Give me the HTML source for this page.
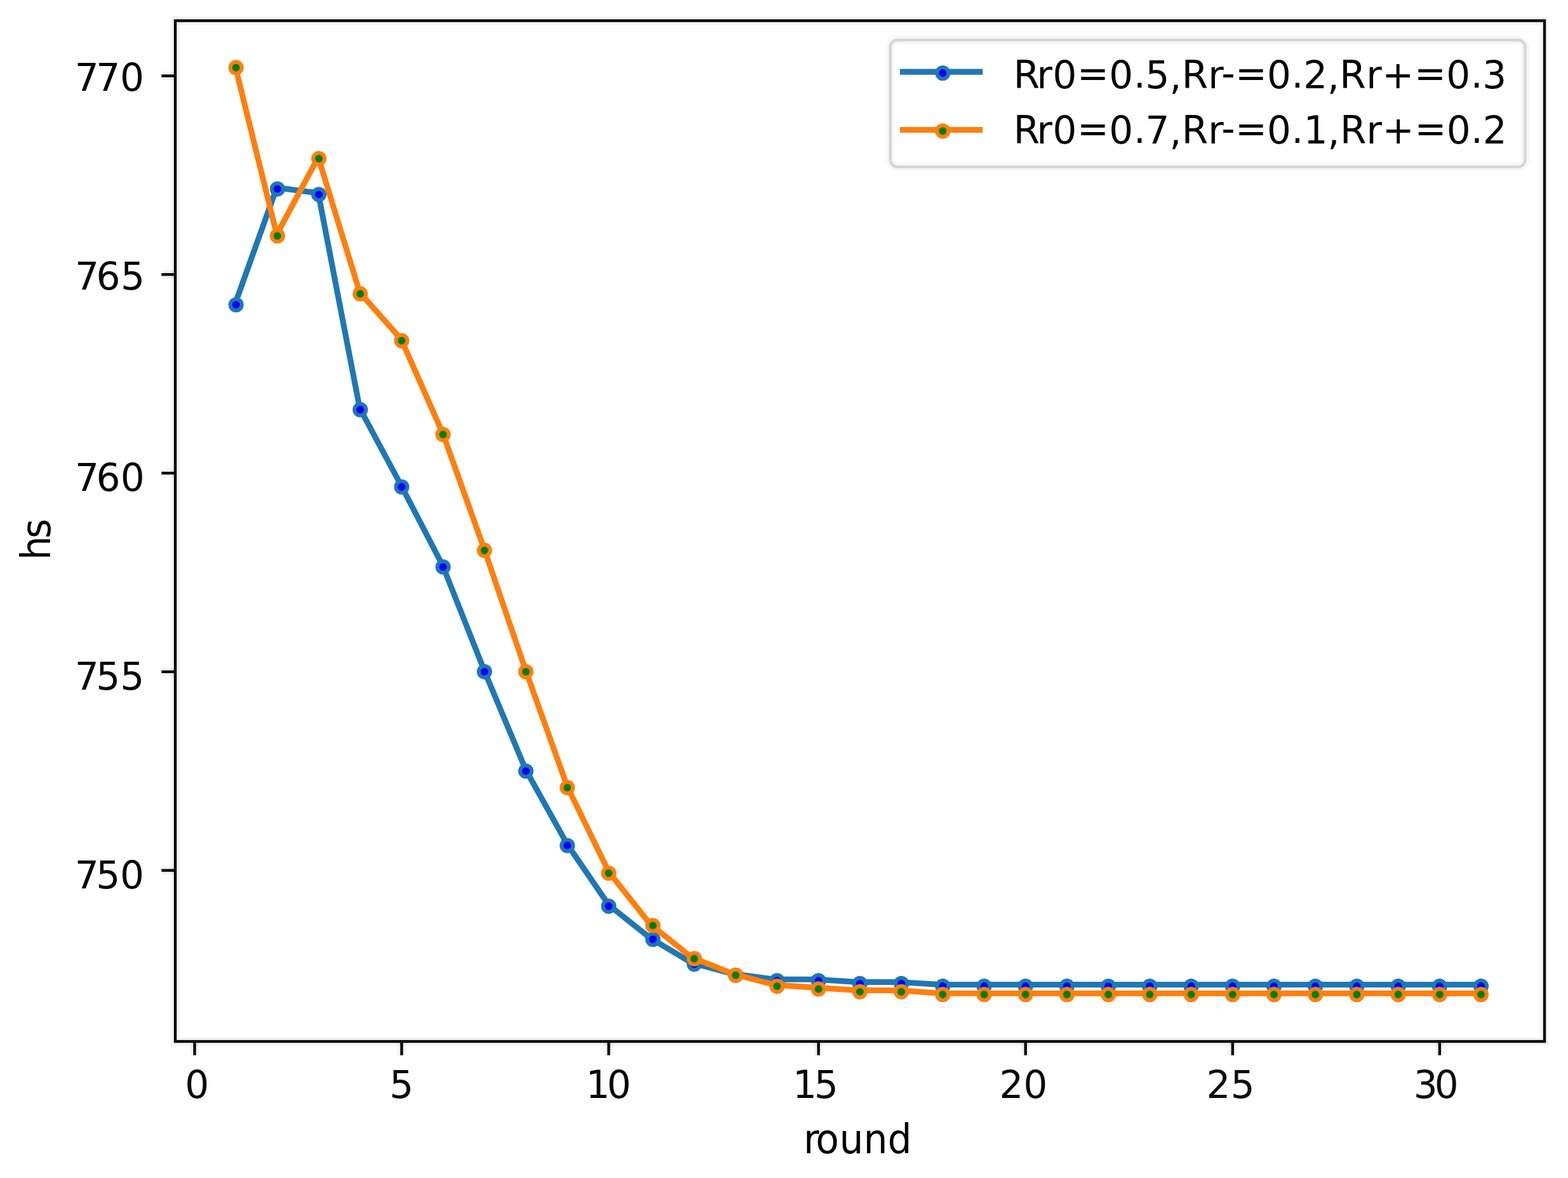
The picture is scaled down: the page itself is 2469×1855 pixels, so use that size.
<!DOCTYPE html>
<html lang="en"><head><meta charset="utf-8"><title>hs vs round</title>
<style>html,body{margin:0;padding:0;background:#fff}body{width:2469px;height:1855px;overflow:hidden}svg{display:block}text{font-family:"DejaVu Sans","Liberation Sans",sans-serif;font-size:59.7px;fill:#000;white-space:pre}</style></head><body>
<svg width="2469" height="1855" viewBox="0 0 2469 1855" role="img" aria-label="Line chart of hs versus round for two parameter settings">
<rect x="0" y="0" width="2469" height="1855" fill="#fff"/>
<polyline points="370.42,477.87 435.75,295.41 501.09,304.1 566.42,642.95 631.75,764.59 697.09,890.57 762.42,1055.66 827.76,1212.05 893.09,1329.34 958.42,1424.92 1023.76,1477.05 1089.09,1516.15 1154.43,1533.52 1219.76,1542.21 1285.1,1542.21 1350.43,1546.56 1415.76,1546.56 1481.1,1550.47 1546.43,1550.47 1611.77,1550.47 1677.1,1550.47 1742.44,1550.47 1807.77,1550.47 1873.1,1550.47 1938.44,1550.47 2003.77,1550.47 2069.11,1550.47 2134.44,1550.47 2199.77,1550.47 2265.11,1550.47 2330.44,1550.47" fill="none" stroke="#1f77b4" stroke-width="9.05" stroke-linejoin="round" stroke-linecap="square"/>
<g fill="#0000ff" stroke="#1f77b4" stroke-width="6.04">
<circle cx="371.65" cy="480.04" r="9.05"/>
<circle cx="436.86" cy="297.58" r="9.05"/>
<circle cx="502.06" cy="306.27" r="9.05"/>
<circle cx="567.26" cy="645.12" r="9.05"/>
<circle cx="632.46" cy="766.76" r="9.05"/>
<circle cx="697.67" cy="892.75" r="9.05"/>
<circle cx="762.87" cy="1057.83" r="9.05"/>
<circle cx="828.07" cy="1214.22" r="9.05"/>
<circle cx="893.27" cy="1331.52" r="9.05"/>
<circle cx="958.48" cy="1427.09" r="9.05"/>
<circle cx="1028.03" cy="1479.22" r="9.05"/>
<circle cx="1093.23" cy="1518.32" r="9.05"/>
<circle cx="1158.43" cy="1535.7" r="9.05"/>
<circle cx="1223.63" cy="1544.39" r="9.05"/>
<circle cx="1288.84" cy="1544.39" r="9.05"/>
<circle cx="1354.04" cy="1548.73" r="9.05"/>
<circle cx="1419.24" cy="1548.73" r="9.05"/>
<circle cx="1484.44" cy="1553.07" r="9.05"/>
<circle cx="1549.65" cy="1553.07" r="9.05"/>
<circle cx="1614.85" cy="1553.07" r="9.05"/>
<circle cx="1680.05" cy="1553.07" r="9.05"/>
<circle cx="1745.25" cy="1553.07" r="9.05"/>
<circle cx="1810.46" cy="1553.07" r="9.05"/>
<circle cx="1875.66" cy="1553.07" r="9.05"/>
<circle cx="1940.86" cy="1553.07" r="9.05"/>
<circle cx="2006.06" cy="1553.07" r="9.05"/>
<circle cx="2071.26" cy="1553.07" r="9.05"/>
<circle cx="2136.47" cy="1553.07" r="9.05"/>
<circle cx="2201.67" cy="1553.07" r="9.05"/>
<circle cx="2266.87" cy="1553.07" r="9.05"/>
<circle cx="2332.07" cy="1553.07" r="9.05"/>
</g>
<polyline points="370.42,104.26 435.75,369.26 501.09,247.62 566.42,460.49 631.75,534.34 697.09,682.05 762.42,864.51 827.76,1055.66 893.09,1238.11 958.42,1372.79 1023.76,1455.33 1089.09,1507.46 1154.43,1533.52 1219.76,1550.9 1285.1,1555.25 1350.43,1559.59 1415.76,1559.59 1481.1,1564.15 1546.43,1564.15 1611.77,1564.15 1677.1,1564.15 1742.44,1564.15 1807.77,1564.15 1873.1,1564.15 1938.44,1564.15 2003.77,1564.15 2069.11,1564.15 2134.44,1564.15 2199.77,1564.15 2265.11,1564.15 2330.44,1564.15" fill="none" stroke="#ff7f0e" stroke-width="9.05" stroke-linejoin="round" stroke-linecap="square"/>
<g fill="#008000" stroke="#ff7f0e" stroke-width="6.04">
<circle cx="371.65" cy="106.43" r="9.05"/>
<circle cx="436.86" cy="371.43" r="9.05"/>
<circle cx="502.06" cy="249.8" r="9.05"/>
<circle cx="567.26" cy="462.66" r="9.05"/>
<circle cx="632.46" cy="536.52" r="9.05"/>
<circle cx="697.67" cy="684.22" r="9.05"/>
<circle cx="762.87" cy="866.68" r="9.05"/>
<circle cx="828.07" cy="1057.83" r="9.05"/>
<circle cx="893.27" cy="1240.29" r="9.05"/>
<circle cx="958.48" cy="1374.96" r="9.05"/>
<circle cx="1028.03" cy="1457.5" r="9.05"/>
<circle cx="1093.23" cy="1509.63" r="9.05"/>
<circle cx="1158.43" cy="1535.7" r="9.05"/>
<circle cx="1223.63" cy="1553.07" r="9.05"/>
<circle cx="1288.84" cy="1557.42" r="9.05"/>
<circle cx="1354.04" cy="1561.76" r="9.05"/>
<circle cx="1419.24" cy="1561.76" r="9.05"/>
<circle cx="1484.44" cy="1566.11" r="9.05"/>
<circle cx="1549.65" cy="1566.11" r="9.05"/>
<circle cx="1614.85" cy="1566.11" r="9.05"/>
<circle cx="1680.05" cy="1566.11" r="9.05"/>
<circle cx="1745.25" cy="1566.11" r="9.05"/>
<circle cx="1810.46" cy="1566.11" r="9.05"/>
<circle cx="1875.66" cy="1566.11" r="9.05"/>
<circle cx="1940.86" cy="1566.11" r="9.05"/>
<circle cx="2006.06" cy="1566.11" r="9.05"/>
<circle cx="2071.26" cy="1566.11" r="9.05"/>
<circle cx="2136.47" cy="1566.11" r="9.05"/>
<circle cx="2201.67" cy="1566.11" r="9.05"/>
<circle cx="2266.87" cy="1566.11" r="9.05"/>
<circle cx="2332.07" cy="1566.11" r="9.05"/>
</g>
<g stroke="#000" stroke-opacity="0.05" stroke-width="13.04" fill="none">
<line x1="306.45" y1="1639.96" x2="306.45" y2="1661.68"/>
<line x1="632.46" y1="1639.96" x2="632.46" y2="1661.68"/>
<line x1="958.48" y1="1639.96" x2="958.48" y2="1661.68"/>
<line x1="1288.84" y1="1639.96" x2="1288.84" y2="1661.68"/>
<line x1="1614.85" y1="1639.96" x2="1614.85" y2="1661.68"/>
<line x1="1940.86" y1="1639.96" x2="1940.86" y2="1661.68"/>
<line x1="2266.87" y1="1639.96" x2="2266.87" y2="1661.68"/>
<line x1="254.29" y1="119.47" x2="276.02" y2="119.47"/>
<line x1="254.29" y1="432.25" x2="276.02" y2="432.25"/>
<line x1="254.29" y1="745.04" x2="276.02" y2="745.04"/>
<line x1="254.29" y1="1057.83" x2="276.02" y2="1057.83"/>
<line x1="254.29" y1="1370.61" x2="276.02" y2="1370.61"/>
<rect x="276.02" y="32.58" width="2156.03" height="1607.38" stroke-linejoin="miter"/>
</g>
<g stroke="#000" stroke-width="4.35" fill="none">
<line x1="306.45" y1="1639.96" x2="306.45" y2="1661.68"/>
<line x1="632.46" y1="1639.96" x2="632.46" y2="1661.68"/>
<line x1="958.48" y1="1639.96" x2="958.48" y2="1661.68"/>
<line x1="1288.84" y1="1639.96" x2="1288.84" y2="1661.68"/>
<line x1="1614.85" y1="1639.96" x2="1614.85" y2="1661.68"/>
<line x1="1940.86" y1="1639.96" x2="1940.86" y2="1661.68"/>
<line x1="2266.87" y1="1639.96" x2="2266.87" y2="1661.68"/>
<line x1="254.29" y1="119.47" x2="276.02" y2="119.47"/>
<line x1="254.29" y1="432.25" x2="276.02" y2="432.25"/>
<line x1="254.29" y1="745.04" x2="276.02" y2="745.04"/>
<line x1="254.29" y1="1057.83" x2="276.02" y2="1057.83"/>
<line x1="254.29" y1="1370.61" x2="276.02" y2="1370.61"/>
<rect x="276.02" y="32.58" width="2156.03" height="1607.38" stroke-linejoin="miter"/>
</g>
<rect x="1401.85" y="62.99" width="999.77" height="199.84" rx="11.3" ry="11.3" fill="#fff" fill-opacity="0.8" stroke="#ccc" stroke-opacity="0.16" stroke-width="13.04"/>
<rect x="1401.85" y="62.99" width="999.77" height="199.84" rx="11.3" ry="11.3" fill="none" stroke="#ccc" stroke-opacity="0.76" stroke-width="4.35"/>
<line x1="1417.07" y1="113.12" x2="1547.47" y2="113.12" stroke="#1f77b4" stroke-width="9.05"/>
<circle cx="1484.44" cy="115.12" r="9.05" fill="#0000ff" stroke="#1f77b4" stroke-width="6.04"/>
<line x1="1417.07" y1="204.4" x2="1547.47" y2="204.4" stroke="#ff7f0e" stroke-width="9.05"/>
<circle cx="1484.44" cy="206.35" r="9.05" fill="#008000" stroke="#ff7f0e" stroke-width="6.04"/>
<text id="xt0" x="291.21" y="1729" fill-opacity="0.97">0</text>
<text id="xt5" x="613.17" y="1729" fill-opacity="0.96">5</text>
<text id="xt10" x="922.53 955.63" y="1729" fill-opacity="0.98">10</text>
<text id="xt15" x="1248.22 1281.96" y="1729" fill-opacity="0.97">15</text>
<text id="xt20" x="1573.46 1611.54" y="1729" fill-opacity="0.96">20</text>
<text id="xt25" x="1899.57 1937.76" y="1729" fill-opacity="0.95">25</text>
<text id="xt30" x="2225.84 2258.79" y="1729" fill-opacity="0.95">30</text>
<text id="yt770" x="117.66 151.17 188.92" y="143" fill-opacity="0.98">770</text>
<text id="yt765" x="117.99 151.4 189.89" y="456" fill-opacity="0.97">765</text>
<text id="yt760" x="117.95 151.4 189.66" y="773" fill-opacity="0.98">760</text>
<text id="yt755" x="117.71 151.24 189.35" y="1086" fill-opacity="0.96">755</text>
<text id="yt750" x="117.7 151.24 188.92" y="1399" fill-opacity="0.97">750</text>
<text id="xlabel" transform="translate(0 1815.84) scale(1 1.0600)" x="1265.36 1284.55 1321.69 1359.76 1397.79" y="0">round</text>
<text id="ylabel" transform="translate(78.65 884.42) rotate(-90) scale(1 1.0600)" x="2.4 36.4" y="0">hs</text>
<text id="leg1" x="1595.76 1632.53 1657.46 1696 1746.31 1784.89 1803.6 1841.45 1860.63 1902.33 1923.34 1944.88 1995.08 2033.42 2052.24 2090.12 2109.24 2151.13 2176.15 2226.91 2277.22 2315.63 2334.37" y="139 139 139 136 139 138 139 141 139 139 136 136 139 138 139 141 139 139 139 136 139 138 139" fill-opacity="0.98">Rr0=0.5,Rr-=0.2,Rr+=0.3</text>
<text id="leg2" x="1595.73 1632.53 1657.46 1696 1746.31 1784.89 1803.59 1841.45 1860.63 1902.33 1923.34 1944.88 1995.08 2033.44 2052.73 2090.57 2109.89 2151.47 2176.82 2227.57 2277.71 2315.9 2334.83" y="226 226 226 223 226 225 226 228 226 226 223 223 226 225 226 228 226 226 226 223 226 225 226" fill-opacity="0.98">Rr0=0.7,Rr-=0.1,Rr+=0.2</text>
</svg></body></html>
